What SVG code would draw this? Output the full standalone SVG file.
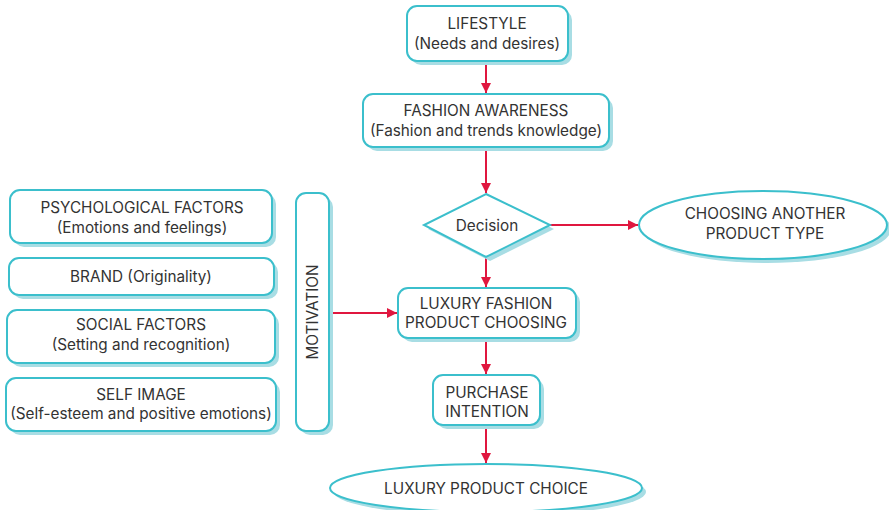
<svg xmlns="http://www.w3.org/2000/svg" width="889" height="510" viewBox="0 0 889 510">
<style>
.sh{fill:#a8dde4;stroke:none}
.nd{fill:#fff;stroke:#3bbfcc;stroke-width:2}
text{font-family:Inter,"Liberation Sans",sans-serif;font-size:15.3px;fill:#333;text-anchor:middle}
.cn{stroke:#e0173f;stroke-width:2;fill:none;marker-end:url(#ah)}
</style>
<defs>
<marker id="ah" markerWidth="10" markerHeight="10" refX="10" refY="5" orient="auto" markerUnits="userSpaceOnUse">
<path d="M0,0 L10,5 L0,10 Z" fill="#e0173f"/>
</marker>
</defs>
<g id="connectors">
<line class="cn" x1="486" y1="62" x2="486" y2="93"/>
<line class="cn" x1="486" y1="148" x2="486" y2="193"/>
<line class="cn" x1="550" y1="225" x2="638" y2="225"/>
<line class="cn" x1="486" y1="258" x2="486" y2="287"/>
<line class="cn" x1="330" y1="313" x2="397" y2="313"/>
<line class="cn" x1="486" y1="339" x2="486" y2="374"/>
<line class="cn" x1="486" y1="426" x2="486" y2="463"/>
</g>
<g id="lifestyle">
<rect class="sh" x="411" y="10" width="161" height="55" rx="10"/>
<rect class="nd" x="407" y="6" width="161" height="55" rx="10"/>
<text x="487" y="29">LIFESTYLE</text>
<text x="487" y="49">(Needs and desires)</text>
</g>
<g id="fashion-awareness">
<rect class="sh" x="367" y="98" width="246" height="53" rx="10"/>
<rect class="nd" x="363" y="94" width="246" height="53" rx="10"/>
<text x="486" y="116">FASHION AWARENESS</text>
<text x="486" y="136">(Fashion and trends knowledge)</text>
</g>
<g id="decision">
<polygon class="sh" points="490,198 554,229 490,261 428,229"/>
<polygon class="nd" points="486,194 550,225 486,257 424,225"/>
<text x="487" y="231">Decision</text>
</g>
<g id="another-type">
<ellipse class="sh" cx="767" cy="229" rx="124" ry="34"/>
<ellipse class="nd" cx="763" cy="225" rx="124" ry="34"/>
<text x="765" y="219">CHOOSING ANOTHER</text>
<text x="765" y="239">PRODUCT TYPE</text>
</g>
<g id="luxury-choosing">
<rect class="sh" x="402" y="292" width="178" height="50" rx="10"/>
<rect class="nd" x="398" y="288" width="178" height="50" rx="10"/>
<text x="486" y="309">LUXURY FASHION</text>
<text x="486" y="328">PRODUCT CHOOSING</text>
</g>
<g id="purchase-intention">
<rect class="sh" x="437" y="379" width="107" height="50" rx="10"/>
<rect class="nd" x="433" y="375" width="107" height="50" rx="10"/>
<text x="487" y="398">PURCHASE</text>
<text x="487" y="417">INTENTION</text>
</g>
<g id="luxury-choice">
<ellipse class="sh" cx="490" cy="492" rx="156" ry="24"/>
<ellipse class="nd" cx="486" cy="488" rx="156" ry="24"/>
<text x="486" y="494">LUXURY PRODUCT CHOICE</text>
</g>
<g id="psychological">
<rect class="sh" x="14" y="194" width="262" height="53" rx="10"/>
<rect class="nd" x="10" y="190" width="262" height="53" rx="10"/>
<text x="142" y="213">PSYCHOLOGICAL FACTORS</text>
<text x="142" y="233">(Emotions and feelings)</text>
</g>
<g id="brand">
<rect class="sh" x="13" y="262" width="265" height="37" rx="10"/>
<rect class="nd" x="9" y="258" width="265" height="37" rx="10"/>
<text x="141" y="282">BRAND (Originality)</text>
</g>
<g id="social">
<rect class="sh" x="11" y="314" width="268" height="53" rx="10"/>
<rect class="nd" x="7" y="310" width="268" height="53" rx="10"/>
<text x="141" y="330">SOCIAL FACTORS</text>
<text x="141" y="350">(Setting and recognition)</text>
</g>
<g id="self-image">
<rect class="sh" x="10" y="382" width="270" height="53" rx="10"/>
<rect class="nd" x="6" y="378" width="270" height="53" rx="10"/>
<text x="141" y="400">SELF IMAGE</text>
<text x="141" y="419">(Self-esteem and positive emotions)</text>
</g>
<g id="motivation">
<rect class="sh" x="300" y="197" width="33" height="238" rx="10"/>
<rect class="nd" x="296" y="193" width="33" height="238" rx="10"/>
<text x="0" y="0" transform="translate(318,312) rotate(-90)">MOTIVATION</text>
</g>
</svg>
